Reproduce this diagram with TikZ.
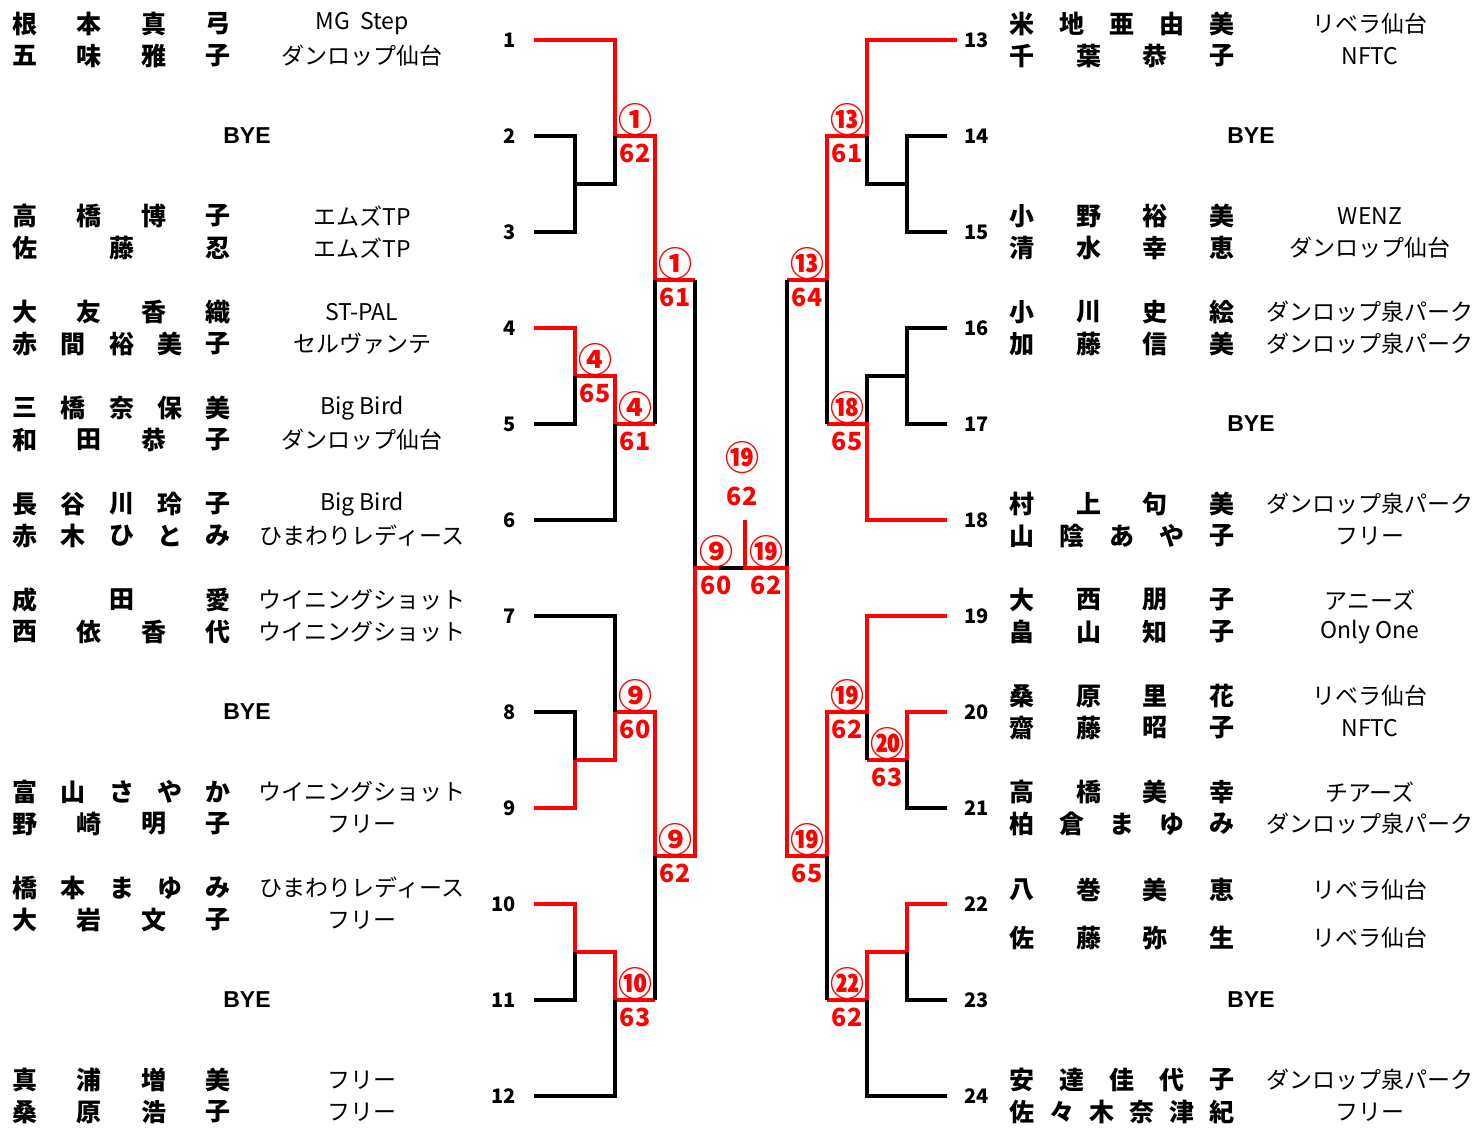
\documentclass[tikz,border=0pt]{standalone}
\usepackage{fontspec}
\setmainfont{Noto Sans CJK JP}
\newfontfamily\byefont{Liberation Sans}
\usepackage{tikz}
\definecolor{winred}{RGB}{255,0,0}
\def\wide{1476}
\def\high{1128}
% player names, spread between two columns
\newcommand{\lname}[4]{\foreach \c [count=\k from 0] in {#4} \node[nm] (#1-\k) at ({25+193*\k/(#3-1)},#2) {\c};}
\newcommand{\rname}[4]{\foreach \c [count=\k from 0] in {#4} \node[nm] (#1-\k) at ({1022+200*\k/(#3-1)},#2) {\c};}
% winner (circled) above, score below
\newcommand{\score}[5]{\node[circ] (w#1) at (#2,#3-16) {#4}; \node[pts] (s#1) at (#2,#3+17) {#5};}

\tikzset{
	win/.style={draw=winred, line width=2pt},
	lose/.style={draw=black, line width=2pt},
	nm/.style={font=\fontsize{12.5}{14}\selectfont\bfseries, inner sep=0pt},
	team/.style={font=\fontsize{11.5}{13}\selectfont, inner sep=0pt},
	num/.style={font=\fontsize{10}{12}\selectfont\bfseries, inner sep=0pt},
	circ/.style={font=\fontsize{17}{19}\selectfont\bfseries, text=winred, inner sep=0pt},
	pts/.style={font=\fontsize{12.5}{14}\selectfont\bfseries, text=winred, inner sep=0pt},
	bye/.style={font=\byefont\fontsize{11.5}{13}\selectfont\bfseries, inner sep=0pt},
}

\begin{document}
\begin{tikzpicture}[x=0.5pt, y=-0.5pt]
	\useasboundingbox (0,0) rectangle (\wide,\high);
	% slot numbers and line ends
	\foreach \i in {1,...,12} {
		\node[num, anchor=east] (n\i) at (516,{40+96*(\i-1)}) {\i};
		\coordinate (L\i) at (534,{40+96*(\i-1)});
	}
	\foreach \i in {13,...,24} {
		\node[num, anchor=west] (n\i) at (964,{40+96*(\i-13)}) {\i};
		\coordinate (R\i) at (947,{40+96*(\i-13)});
	}
	\coordinate (R13) at (957,40);

	% left half
	\draw[win] (L1) -- (615,40) -- (615,136) -- (655,136) -- (655,280) -- (695,280);
	\draw[lose] (L2) -- (575,136) -- (575,232) -- (L3);
	\draw[lose] (575,184) -- (615,184) -- (615,136);
	\draw[win] (L4) -- (575,328) -- (575,376) -- (615,376) -- (615,424) -- (655,424);
	\draw[lose] (L5) -- (575,424) -- (575,376);
	\draw[lose] (L6) -- (615,520) -- (615,424);
	\draw[lose] (655,424) -- (655,280);
	\draw[lose] (695,280) -- (695,568) -- (745,568);
	\draw[win] (L9) -- (575,808) -- (575,760) -- (615,760) -- (615,712) -- (655,712) -- (655,856) -- (695,856) -- (695,568) -- (719,568);
	\draw[lose] (L8) -- (575,712) -- (575,760);
	\draw[lose] (L7) -- (615,616) -- (615,712);
	\draw[win] (L10) -- (575,904) -- (575,952) -- (615,952) -- (615,1000) -- (655,1000);
	\draw[lose] (L11) -- (575,1000) -- (575,952);
	\draw[lose] (L12) -- (615,1096) -- (615,1000);
	\draw[lose] (655,1000) -- (655,856);

	% right half
	\draw[win] (R13) -- (867,40) -- (867,136) -- (827,136) -- (827,280) -- (787,280);
	\draw[lose] (R14) -- (907,136) -- (907,232) -- (R15);
	\draw[lose] (907,184) -- (867,184) -- (867,136);
	\draw[lose] (R16) -- (907,328) -- (907,424) -- (R17);
	\draw[lose] (907,376) -- (867,376) -- (867,424);
	\draw[win] (R18) -- (867,520) -- (867,424) -- (827,424);
	\draw[lose] (827,424) -- (827,280);
	\draw[lose] (787,280) -- (787,568);
	\draw[win] (R20) -- (907,712) -- (907,760) -- (867,760);
	\draw[lose] (R21) -- (907,808) -- (907,760);
	\draw[lose] (867,760) -- (867,712);
	\draw[win] (R19) -- (867,616) -- (867,712) -- (827,712) -- (827,856) -- (787,856) -- (787,568) -- (745,568) -- (745,520);
	\draw[win] (R22) -- (907,904) -- (907,952) -- (867,952) -- (867,1000) -- (827,1000);
	\draw[lose] (R23) -- (907,1000) -- (907,952);
	\draw[lose] (R24) -- (867,1096) -- (867,1000);
	\draw[lose] (827,1000) -- (827,856);

	% results
	\score{1}{635}{136}{①}{62}
	\score{2}{595}{376}{④}{65}
	\score{3}{635}{424}{④}{61}
	\score{4}{675}{280}{①}{61}
	\score{5}{635}{712}{⑨}{60}
	\score{6}{635}{1000}{⑩}{63}
	\score{7}{675}{856}{⑨}{62}
	\score{8}{716}{568}{⑨}{60}
	\score{9}{766}{568}{⑲}{62}
	\node[circ] (wf) at (742,458) {⑲};
	\node[pts] (sf) at (742,496) {62};
	\score{10}{847}{136}{⑬}{61}
	\score{11}{847}{424}{⑱}{65}
	\score{12}{807}{280}{⑬}{64}
	\score{13}{847}{712}{⑲}{62}
	\score{14}{887}{760}{⑳}{63}
	\score{15}{807}{856}{⑲}{65}
	\score{16}{847}{1000}{㉒}{62}

	% left players
	\lname{a1}{24}{4}{根,本,真,弓}        \node[team] (ta1) at (362,24) {MG\ \ Step};
	\lname{b1}{56}{4}{五,味,雅,子}        \node[team] (tb1) at (362,56) {ダンロップ仙台};
	\node[bye] (bye2) at (247,136) {BYE};
	\lname{a3}{216}{4}{高,橋,博,子}       \node[team] (ta3) at (362,216) {エムズTP};
	\lname{b3}{248}{3}{佐,藤,忍}          \node[team] (tb3) at (362,248) {エムズTP};
	\lname{a4}{312}{4}{大,友,香,織}       \node[team] (ta4) at (362,312) {ST-PAL};
	\lname{b4}{344}{5}{赤,間,裕,美,子}    \node[team] (tb4) at (362,344) {セルヴァンテ};
	\lname{a5}{408}{5}{三,橋,奈,保,美}    \node[team] (ta5) at (362,408) {Big Bird};
	\lname{b5}{440}{4}{和,田,恭,子}       \node[team] (tb5) at (362,440) {ダンロップ仙台};
	\lname{a6}{504}{5}{長,谷,川,玲,子}    \node[team] (ta6) at (362,504) {Big Bird};
	\lname{b6}{536}{5}{赤,木,ひ,と,み}    \node[team] (tb6) at (362,536) {ひまわりレディース};
	\lname{a7}{600}{3}{成,田,愛}          \node[team] (ta7) at (362,600) {ウイニングショット};
	\lname{b7}{632}{4}{西,依,香,代}       \node[team] (tb7) at (362,632) {ウイニングショット};
	\node[bye] (bye8) at (247,712) {BYE};
	\lname{a9}{792}{5}{富,山,さ,や,か}    \node[team] (ta9) at (362,792) {ウイニングショット};
	\lname{b9}{824}{4}{野,崎,明,子}       \node[team] (tb9) at (362,824) {フリー};
	\lname{a10}{888}{5}{橋,本,ま,ゆ,み}   \node[team] (ta10) at (362,888) {ひまわりレディース};
	\lname{b10}{920}{4}{大,岩,文,子}      \node[team] (tb10) at (362,920) {フリー};
	\node[bye] (bye11) at (247,1000) {BYE};
	\lname{a12}{1080}{4}{真,浦,増,美}     \node[team] (ta12) at (362,1080) {フリー};
	\lname{b12}{1112}{4}{桑,原,浩,子}     \node[team] (tb12) at (362,1112) {フリー};

	% right players
	\rname{a13}{24}{5}{米,地,亜,由,美}    \node[team] (ta13) at (1370,24) {リベラ仙台};
	\rname{b13}{56}{4}{千,葉,恭,子}       \node[team] (tb13) at (1370,56) {NFTC};
	\node[bye] (bye14) at (1251,136) {BYE};
	\rname{a15}{216}{4}{小,野,裕,美}      \node[team] (ta15) at (1370,216) {WENZ};
	\rname{b15}{248}{4}{清,水,幸,恵}      \node[team] (tb15) at (1370,248) {ダンロップ仙台};
	\rname{a16}{312}{4}{小,川,史,絵}      \node[team] (ta16) at (1370,312) {ダンロップ泉パーク};
	\rname{b16}{344}{4}{加,藤,信,美}      \node[team] (tb16) at (1370,344) {ダンロップ泉パーク};
	\node[bye] (bye17) at (1251,424) {BYE};
	\rname{a18}{504}{4}{村,上,句,美}      \node[team] (ta18) at (1370,504) {ダンロップ泉パーク};
	\rname{b18}{536}{5}{山,陰,あ,や,子}   \node[team] (tb18) at (1370,536) {フリー};
	\rname{a19}{600}{4}{大,西,朋,子}      \node[team] (ta19) at (1370,600) {アニーズ};
	\rname{b19}{632}{4}{畠,山,知,子}      \node[team] (tb19) at (1370,632) {Only One};
	\rname{a20}{696}{4}{桑,原,里,花}      \node[team] (ta20) at (1370,696) {リベラ仙台};
	\rname{b20}{728}{4}{齋,藤,昭,子}      \node[team] (tb20) at (1370,728) {NFTC};
	\rname{a21}{792}{4}{高,橋,美,幸}      \node[team] (ta21) at (1370,792) {チアーズ};
	\rname{b21}{824}{5}{柏,倉,ま,ゆ,み}   \node[team] (tb21) at (1370,824) {ダンロップ泉パーク};
	\rname{a22}{890}{4}{八,巻,美,恵}      \node[team] (ta22) at (1370,890) {リベラ仙台};
	\rname{b22}{938}{4}{佐,藤,弥,生}      \node[team] (tb22) at (1370,938) {リベラ仙台};
	\node[bye] (bye23) at (1251,1000) {BYE};
	\rname{a24}{1080}{5}{安,達,佳,代,子}  \node[team] (ta24) at (1370,1080) {ダンロップ泉パーク};
	\rname{b24}{1112}{6}{佐,々,木,奈,津,紀} \node[team] (tb24) at (1370,1112) {フリー};
\end{tikzpicture}
\end{document}
